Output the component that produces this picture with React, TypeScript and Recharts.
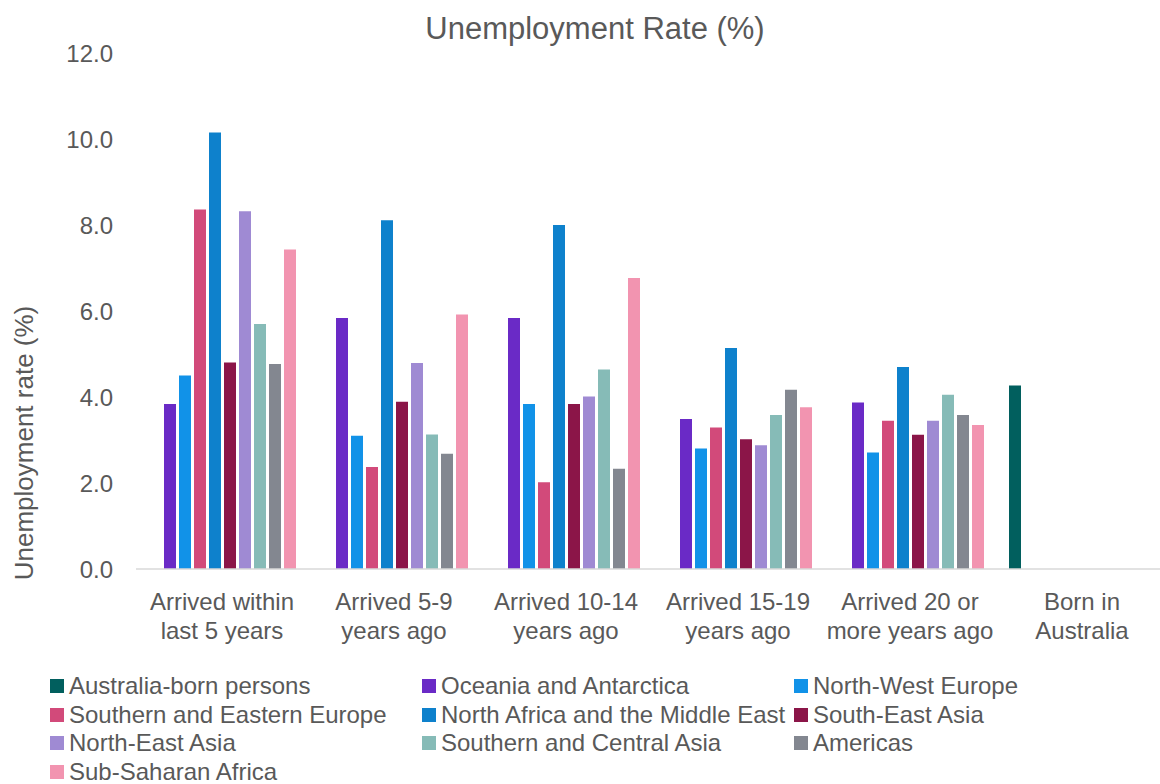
import React from 'react';
import { Bar, BarChart, XAxis, YAxis } from 'recharts';

const categories = [
  'Arrived within last 5 years',
  'Arrived 5-9 years ago',
  'Arrived 10-14 years ago',
  'Arrived 15-19 years ago',
  'Arrived 20 or more years ago',
  'Born in Australia',
];
const tickLines = [
  ['Arrived within', 'last 5 years'],
  ['Arrived 5-9', 'years ago'],
  ['Arrived 10-14', 'years ago'],
  ['Arrived 15-19', 'years ago'],
  ['Arrived 20 or', 'more years ago'],
  ['Born in', 'Australia'],
];
const yTicks = [0, 2, 4, 6, 8, 10, 12];

const australiaBorn = [null, null, null, null, null, 4.27];
const oceania = [3.84, 5.84, 5.84, 3.49, 3.87, null];
const nwEurope = [4.5, 3.1, 3.84, 2.8, 2.71, null];
const seEurope = [8.36, 2.37, 2.02, 3.29, 3.45, null];
const nAfricaMe = [10.15, 8.11, 8.0, 5.14, 4.7, null];
const seAsia = [4.8, 3.89, 3.84, 3.02, 3.12, null];
const neAsia = [8.32, 4.79, 4.01, 2.88, 3.45, null];
const scAsia = [5.7, 3.13, 4.64, 3.58, 4.05, null];
const americas = [4.77, 2.68, 2.33, 4.17, 3.58, null];
const ssAfrica = [7.43, 5.92, 6.77, 3.76, 3.35, null];

const series = [
  { key: 'australiaBorn', name: 'Australia-born persons', color: '#015F5E', values: australiaBorn },
  { key: 'oceania', name: 'Oceania and Antarctica', color: '#6A2AC6', values: oceania },
  { key: 'nwEurope', name: 'North-West Europe', color: '#1192E8', values: nwEurope },
  { key: 'seEurope', name: 'Southern and Eastern Europe', color: '#D24A7A', values: seEurope },
  { key: 'nAfricaMe', name: 'North Africa and the Middle East', color: '#0E81CC', values: nAfricaMe },
  { key: 'seAsia', name: 'South-East Asia', color: '#8B1548', values: seAsia },
  { key: 'neAsia', name: 'North-East Asia', color: '#9F8AD3', values: neAsia },
  { key: 'scAsia', name: 'Southern and Central Asia', color: '#86BBB7', values: scAsia },
  { key: 'americas', name: 'Americas', color: '#838790', values: americas },
  { key: 'ssAfrica', name: 'Sub-Saharan Africa', color: '#F294B0', values: ssAfrica },
];

const data = categories.map((category, i) => {
  const row: Record<string, string | number | null> = { category };
  series.forEach((s) => {
    row[s.key] = s.values[i];
  });
  return row;
});

const FONT = '"Liberation Sans", Arial, sans-serif';
const TEXT = '#595959';

const CategoryTick = (props: any) => {
  const { x, y, payload } = props;
  const lines = tickLines[categories.indexOf(payload.value)] || [payload.value];
  return (
    <text x={x} y={y + 33} textAnchor="middle" fill={TEXT} fontSize={24} fontFamily={FONT}>
      {lines.map((line, i) => (
        <tspan key={i} x={x} dy={i === 0 ? 0 : 28.5}>
          {line}
        </tspan>
      ))}
    </text>
  );
};

const legendCols = [50, 422, 794];

const App: React.FC = () => {
  return (
    <div style={{ position: 'relative', width: 1160, height: 784, overflow: 'hidden', background: '#fff', fontFamily: FONT }}>
      <style>{'body { margin: 0; }'}</style>
      <BarChart
        width={1168}
        height={784}
        data={data}
        margin={{ top: 53, right: 0, bottom: 0, left: 0 }}
        barSize={12}
        barGap={3}
      >
        <XAxis
          dataKey="category"
          height={215}
          interval={0}
          tickLine={false}
          axisLine={{ stroke: '#D9D9D9', strokeWidth: 1.5 }}
          tick={<CategoryTick />}
        />
        <YAxis
          width={136}
          domain={[0, 12]}
          ticks={yTicks}
          axisLine={false}
          tickLine={false}
          tickSize={0}
          tickMargin={23}
          tickFormatter={(v: number) => v.toFixed(1)}
          tick={{ fill: TEXT, fontSize: 24, fontFamily: FONT }}
        />
        {series.map((s) => (
          <Bar key={s.key} dataKey={s.key} name={s.name} fill={s.color} isAnimationActive={false} />
        ))}
        <text x={595} y={39} textAnchor="middle" fill={TEXT} fontSize={31} fontFamily={FONT}>
          Unemployment Rate (%)
        </text>
        <text
          x={33}
          y={443}
          textAnchor="middle"
          fill={TEXT}
          fontSize={26}
          fontFamily={FONT}
          transform="rotate(-90 33 443)"
        >
          Unemployment rate (%)
        </text>
      </BarChart>
      {series.map((s, i) => {
        const col = i % 3;
        const row = Math.floor(i / 3);
        const top = 672 + row * 28.5;
        return (
          <div
            key={s.key}
            style={{
              position: 'absolute',
              left: legendCols[col],
              top,
              height: 28,
              display: 'flex',
              alignItems: 'center',
              whiteSpace: 'nowrap',
            }}
          >
            <span style={{ width: 14, height: 14, background: s.color, marginRight: 5, flex: 'none' }} />
            <span style={{ fontSize: 24, lineHeight: '28px', color: TEXT }}>{s.name}</span>
          </div>
        );
      })}
    </div>
  );
};

export default App;
